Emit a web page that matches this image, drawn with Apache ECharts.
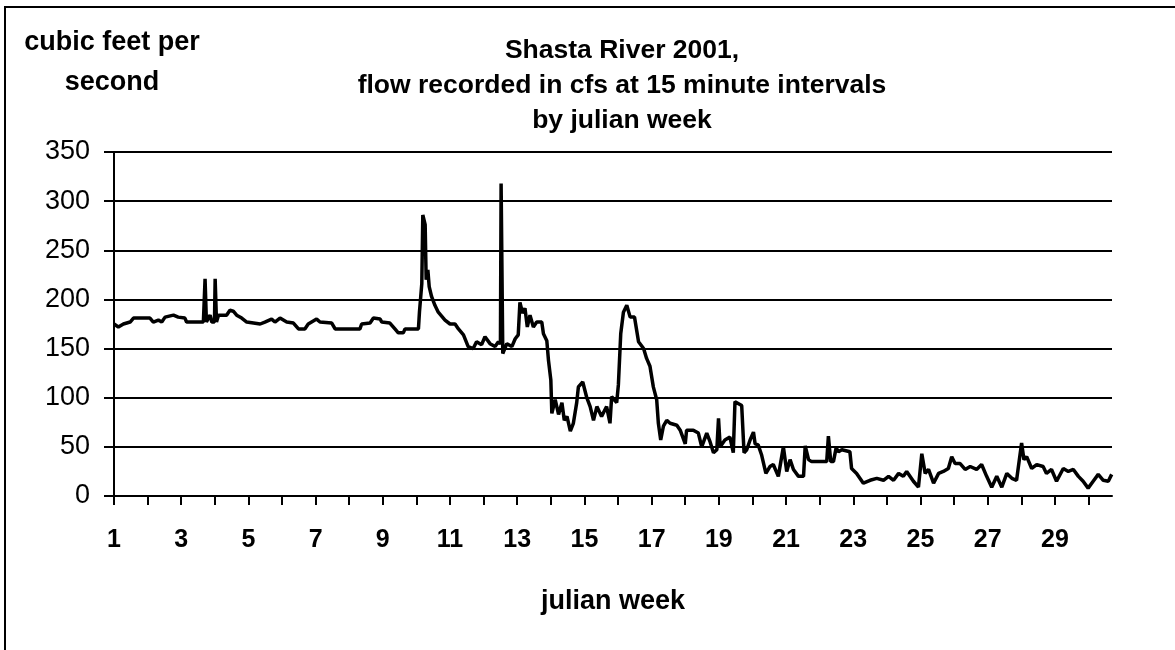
<!DOCTYPE html>
<html>
<head>
<meta charset="utf-8">
<script src="https://cdn.jsdelivr.net/npm/echarts@6/dist/echarts.min.js"></script>
<style>
  html, body { margin: 0; padding: 0; background: #fff; }
  #chart { width: 1175px; height: 650px; }
</style>
</head>
<body>
<div id="chart"></div>
<script>
// julian week position of each reading
const weeks = [
  1.00, 1.13, 1.28, 1.48, 1.58, 2.07, 2.17, 2.32, 2.42, 2.52, 2.77, 2.91, 3.11, 3.16,
  3.66, 3.69, 3.71, 3.73, 3.75, 3.86, 3.91, 3.99, 4.01, 4.03, 4.05, 4.11, 4.35, 4.45,
  4.55, 4.65, 4.80, 4.95, 5.35, 5.49, 5.69, 5.79, 5.94, 6.14, 6.34, 6.49, 6.68, 6.78,
  7.03, 7.13, 7.48, 7.58, 8.32, 8.37, 8.62, 8.72, 8.92, 8.97, 9.21, 9.36, 9.46, 9.61,
  9.66, 10.06, 10.09, 10.16, 10.19, 10.22, 10.26, 10.29, 10.34, 10.38, 10.45, 10.55, 10.65,
  10.85, 11.00, 11.15, 11.25, 11.40, 11.54, 11.69, 11.79, 11.94, 12.04, 12.19, 12.34, 12.44,
  12.50, 12.52, 12.54, 12.57, 12.69, 12.84, 12.94, 13.03, 13.08, 13.16, 13.23, 13.30, 13.38,
  13.48, 13.58, 13.73, 13.78, 13.88, 13.93, 14.00, 14.03, 14.13, 14.23, 14.33, 14.40, 14.48,
  14.58, 14.67, 14.77, 14.82, 14.95, 15.07, 15.17, 15.27, 15.37, 15.51, 15.66, 15.76, 15.81,
  15.96, 16.01, 16.08, 16.16, 16.26, 16.36, 16.49, 16.61, 16.76, 16.85, 16.95, 17.05, 17.15,
  17.20, 17.27, 17.35, 17.45, 17.55, 17.75, 17.85, 18.00, 18.04, 18.24, 18.39, 18.49, 18.64,
  18.74, 18.84, 18.94, 18.99, 19.04, 19.18, 19.33, 19.43, 19.48, 19.68, 19.75, 19.83, 19.93,
  20.03, 20.08, 20.17, 20.27, 20.40, 20.52, 20.62, 20.77, 20.92, 21.02, 21.12, 21.22, 21.37,
  21.52, 21.57, 21.67, 21.76, 22.21, 22.26, 22.33, 22.41, 22.49, 22.56, 22.66, 22.90, 22.95,
  23.10, 23.30, 23.50, 23.70, 23.90, 24.05, 24.20, 24.35, 24.49, 24.59, 24.79, 24.94, 25.04,
  25.14, 25.24, 25.39, 25.54, 25.68, 25.83, 25.93, 26.03, 26.18, 26.33, 26.48, 26.67, 26.82,
  26.97, 27.12, 27.27, 27.42, 27.57, 27.72, 27.86, 28.01, 28.08, 28.16, 28.31, 28.46, 28.65,
  28.75, 28.90, 29.05, 29.25, 29.40, 29.55, 29.70, 29.84, 29.99, 30.14, 30.29, 30.44, 30.59,
  30.69
]

// flow in cubic feet per second at those positions
const flows = [
  175, 172, 175, 177, 181, 181, 177, 179, 177, 182, 184, 182, 181, 177,
  177, 177, 221, 221, 177, 184, 177, 177, 221, 221, 177, 184, 184, 189,
  188, 184, 181, 177, 175, 177, 180, 177, 181, 177, 176, 170, 170, 175,
  180, 177, 176, 170, 170, 175, 176, 181, 180, 177, 176, 170, 166, 166,
  170, 170, 187, 216, 286, 284, 276, 220, 230, 213, 203, 194, 187,
  179, 175, 175, 170, 164, 152, 150, 157, 154, 162, 155, 152, 157,
  155, 318, 318, 145, 155, 152, 160, 164, 197, 186, 191, 172, 184,
  172, 177, 177, 165, 158, 138, 118, 84, 98, 83, 95, 77, 81,
  66, 74, 95, 111, 116, 100, 91, 77, 91, 81, 91, 74, 101,
  95, 113, 165, 187, 194, 182, 182, 157, 150, 140, 132, 111, 98,
  74, 57, 71, 77, 74, 72, 67, 53, 67, 67, 64, 50, 64,
  55, 44, 47, 79, 50, 57, 60, 44, 96, 92, 44, 47, 57,
  65, 53, 52, 42, 23, 30, 32, 20, 50, 25, 37, 27, 20,
  20, 51, 37, 35, 35, 61, 35, 35, 49, 45, 47, 45, 28,
  23, 13, 16, 18, 16, 20, 16, 23, 20, 25, 15, 9, 43,
  23, 27, 13, 23, 25, 28, 40, 33, 33, 27, 30, 27, 32,
  20, 9, 20, 9, 23, 18, 16, 54, 37, 40, 28, 32, 30,
  23, 27, 15, 28, 25, 27, 20, 15, 8, 15, 22, 16, 15,
  22
]

const weekMin = 1
const weekMax = 30.7
const flowTicks = [0, 50, 100, 150, 200, 250, 300, 350]

const chart = echarts.init(document.getElementById('chart'))

const font = 'Liberation Sans, Arial, sans-serif'

const option = {
  animation: false,
  backgroundColor: '#fff',
  title: [
    {
      text: 'Shasta River 2001,\nflow recorded in cfs at 15 minute intervals\nby julian week',
      left: 617,
      top: 28,
      textAlign: 'center',
      textStyle: { fontFamily: font, fontWeight: 'bold', fontSize: 26.5, lineHeight: 35, color: '#000' },
    },
    {
      text: 'cubic feet per\nsecond',
      left: 107,
      top: 18,
      textAlign: 'center',
      textStyle: { fontFamily: font, fontWeight: 'bold', fontSize: 27, lineHeight: 40, color: '#000', align: 'center' },
    },
  ],
  graphic: [
    {
      type: 'rect',
      shape: { x: 5, y: 7, width: 1300, height: 800 },
      style: { fill: 'none', stroke: '#000', lineWidth: 2 },
      silent: true,
    },
  ],
  grid: { left: 114, right: 63, top: 152, bottom: 154 },
  xAxis: {
    type: 'value',
    min: weekMin,
    max: weekMax,
    interval: 1,
    name: 'julian week',
    nameLocation: 'middle',
    nameGap: 92,
    nameTextStyle: { fontFamily: font, fontWeight: 'bold', fontSize: 27, color: '#000' },
    axisLine: { show: true, onZero: false, lineStyle: { color: '#000', width: 2 } },
    axisTick: { show: true, length: 9, lineStyle: { color: '#000', width: 2 } },
    axisLabel: {
      margin: 32,
      fontFamily: font,
      fontWeight: 'bold',
      fontSize: 25,
      color: '#000',
      showMaxLabel: false,
      formatter: (v) => (Number.isInteger(v) && v % 2 === 1 ? String(v) : ''),
    },
    splitLine: { show: false },
  },
  yAxis: {
    type: 'value',
    min: 0,
    max: flowTicks[flowTicks.length - 1],
    interval: 50,
    axisLine: { show: true, lineStyle: { color: '#000', width: 2 } },
    axisTick: { show: true, length: 10, lineStyle: { color: '#000', width: 2 } },
    axisLabel: { margin: 24, fontFamily: font, fontSize: 27, color: '#000' },
    splitLine: { show: true, lineStyle: { color: '#000', width: 2 } },
  },
  series: [
    {
      type: 'line',
      data: weeks.map((w, i) => [w, flows[i]]),
      showSymbol: false,
      lineStyle: { color: '#000', width: 3.5 },
      z: 5,
    },
  ],
}

chart.setOption(option)
</script>
</body>
</html>
